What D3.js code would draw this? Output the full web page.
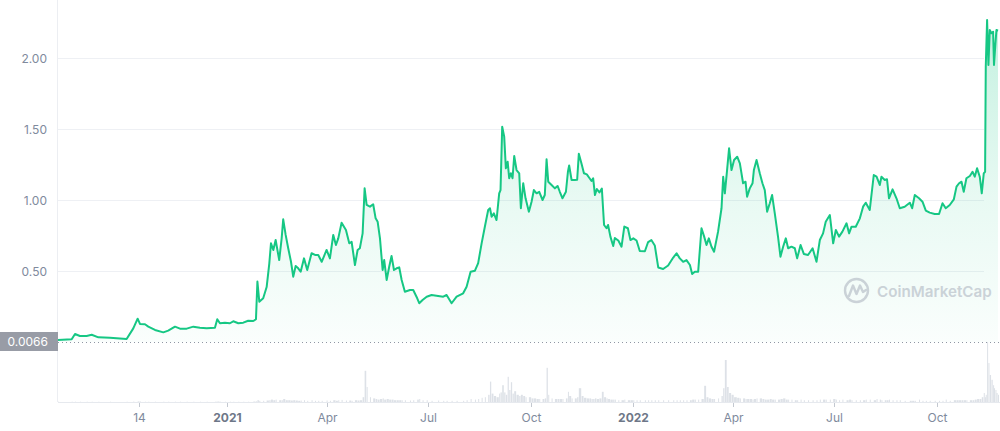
<!DOCTYPE html>
<html>
<head>
<meta charset="utf-8">
<script src="https://cdn.jsdelivr.net/npm/d3@7"></script>
<style>
  html, body { margin: 0; padding: 0; background: #ffffff; }
  svg { display: block; font-family: Inter, "Noto Sans", sans-serif; }
</style>
</head>
<body>
<svg id="chart" width="1000" height="431"></svg>
<script>
// ---- data ----
const startDate = "2020-08-02";
// day offsets from startDate
const priceDays = [0,12.3,15.3,19.7,25.8,30.3,36.3,46.7,61.7,67.7,71.6,73.7,78.2,81.2,87.2,94.7,99.1,105.2,109.7,115.7,121.7,127.6,133.7,141.1,143.2,145.6,150.1,154.6,157.6,162.1,166.6,171.0,175.6,178.0,179.3,181.0,184.5,187.6,190.0,191.5,193.6,195.7,198.9,201.1,202.5,204.7,207.0,209.5,211.5,213.7,216.0,218.2,221.2,224.1,228.0,231.1,234.0,237.1,241.5,244.5,247.5,249.9,252.0,255.0,258.9,261.9,264.0,267.0,269.4,271.4,273.9,275.7,277.5,280.5,283.4,285.6,287.4,289.5,291.9,293.3,295.5,297.8,299.9,302.1,304.5,306.8,309.0,311.9,316.5,319.4,323.0,324.8,327.8,331.5,335.9,341.8,346.4,349.4,353.9,358.4,364.3,367.4,371.0,374.9,377.8,380.9,383.8,386.8,388.4,389.9,391.9,394.3,396.7,397.9,399.4,401.2,402.7,404.3,405.7,407.2,408.7,410.2,412.3,414.7,416.2,418.3,420.4,423.4,425.8,427.9,430.3,432.7,435.7,437.7,439.3,440.8,443.8,446.8,449.2,451.2,453.6,456.7,458.5,459.6,461.8,464.7,466.8,468.3,470.8,472.9,475.5,477.8,479.7,481.2,482.8,484.5,486.8,489.0,491.0,493.2,494.6,496.7,499.2,500.7,503.8,506.7,509.2,512.4,514.7,517.3,520.2,523.1,527.7,530.6,533.5,536.6,539.7,544.1,548.6,553.2,556.2,559.1,562.1,565.1,568.2,570.2,572.6,575.6,578.6,581.0,583.1,585.2,587.6,589.9,593.5,596.6,598.1,599.6,601.6,603.4,605.6,607.9,610.7,613.1,616.0,618.2,619.6,622.0,624.5,625.7,628.1,631.0,633.4,635.5,637.6,640.0,642.1,644.5,647.4,649.6,652.0,654.4,656.5,659.5,662.5,664.6,667.7,670.6,674.4,678.5,682.0,685.0,687.9,690.3,694.0,697.0,699.4,702.3,705.3,709.0,711.3,713.5,717.3,721.0,723.9,726.3,729.9,733.5,736.0,738.9,740.4,743.4,745.4,747.2,750.4,753.9,756.9,761.3,765.9,768.0,770.4,774.2,777.3,780.3,783.8,788.3,792.2,795.3,798.2,801.8,805.5,807.9,810.2,812.4,814.4,816.8,819.9,822.3,824.3,826.4,828.8,830.6,832.4,833.6,834.2,835.4,836.6,837.8,839.3,840.8,841.6,842.9,843.8,845.2];
const priceValues = [0.014,0.019,0.056,0.042,0.042,0.051,0.033,0.030,0.021,0.096,0.164,0.127,0.125,0.108,0.085,0.068,0.080,0.108,0.094,0.094,0.108,0.101,0.096,0.101,0.160,0.132,0.136,0.132,0.146,0.132,0.136,0.150,0.148,0.160,0.426,0.284,0.308,0.387,0.554,0.695,0.648,0.718,0.577,0.730,0.864,0.754,0.660,0.565,0.460,0.535,0.519,0.495,0.589,0.507,0.625,0.613,0.613,0.565,0.648,0.589,0.754,0.683,0.730,0.840,0.789,0.695,0.706,0.542,0.648,0.660,0.765,1.082,0.965,0.953,0.970,0.871,0.847,0.730,0.507,0.577,0.437,0.530,0.606,0.507,0.519,0.526,0.437,0.354,0.366,0.366,0.308,0.273,0.296,0.319,0.331,0.324,0.319,0.331,0.273,0.319,0.343,0.389,0.495,0.502,0.556,0.695,0.812,0.930,0.942,0.882,0.906,0.859,1.047,1.070,1.516,1.446,1.223,1.270,1.153,1.188,1.153,1.310,1.211,1.188,0.942,1.118,1.012,0.918,0.988,1.070,1.047,1.058,1.000,1.035,1.287,1.129,1.106,1.082,1.099,1.058,1.012,1.058,1.199,1.243,1.141,1.141,1.143,1.326,1.253,1.188,1.180,1.155,1.134,1.153,1.035,1.077,1.053,1.081,0.824,0.801,0.824,0.742,0.676,0.732,0.715,0.671,0.813,0.801,0.718,0.730,0.715,0.641,0.639,0.704,0.718,0.680,0.525,0.514,0.539,0.595,0.625,0.589,0.565,0.577,0.542,0.479,0.495,0.495,0.801,0.742,0.683,0.730,0.671,0.636,0.777,0.942,1.164,1.047,1.211,1.364,1.211,1.282,1.305,1.258,1.118,1.129,1.023,1.082,1.118,1.211,1.282,1.188,1.118,1.070,0.918,0.977,1.035,0.906,0.742,0.601,0.671,0.730,0.660,0.671,0.660,0.589,0.683,0.620,0.613,0.660,0.565,0.718,0.765,0.847,0.894,0.695,0.789,0.742,0.777,0.836,0.765,0.812,0.812,0.871,0.953,0.981,0.930,1.176,1.164,1.106,1.164,1.141,1.146,1.012,1.075,1.012,0.942,0.953,0.981,0.942,1.035,1.012,0.988,0.925,0.911,0.901,0.901,0.977,0.942,0.965,1.005,1.094,1.118,1.129,1.058,1.153,1.169,1.199,1.164,1.223,1.164,1.047,1.188,1.199,1.939,2.268,1.951,2.197,2.174,2.185,1.951,2.104,2.197,2.192];
// relative trading volume at the same days
const volumeValues = [0.5,0.5,0.5,0.5,0.5,0.5,0.5,0.5,0.5,0.8,1,0.8,0.5,0.5,0.5,0.5,0.5,0.5,0.5,0.5,0.5,0.5,0.5,0.5,0.8,0.5,0.5,0.5,0.5,0.5,0.5,0.5,0.8,1,3,2,2,2.5,3,4,3,4,3,3,5,3,3,2.5,3,2.5,2,2.5,3,2,3,2,2,2,2.5,2,3,2,3,3.5,2.5,2.5,2,3,2.5,3,8,52,25,8,6,5,4,5,6,4,5,4,4,3,3,3,3,3,2.5,3,4,5,3,3,2,2.5,2,2,2,2,2,3,5,4,5,7,8,12,34,14,10,8,14,16,28,16,12,42,20,33,14,18,12,10,12,10,8,8,6,6,5,5,5,6,57,12,6,5,5,5,5,6,17,10,6,6,8,23,10,7,6,6,5,5,6,5,6,17,8,6,5,4,4,4,3,3,4,3,3,3,3,3,3,3,3,3,3,3,3,3,3,3,3,3,3,4,4,4,5,27,8,6,5,5,6,10,23,70,25,15,12,8,7,6,6,5,5,5,4,5,6,6,5,4,4,5,4,4,4,5,6,4,4,4,3,3,4,3,3,3,3,4,4,4,4,5,4,3,4,3,4,3,3,3,3,4,4,3,5,4,3,3,3,4,3,3,3,2,2,2,2,4,2,2,2,2,2,2,4,2,3,3,3,3,3,3,3,3,4,5,5,8,15,8,12,100,65,45,37,28,23,20,15,12,10];
const yTicks = [0.5, 1.0, 1.5, 2.0];
const yTickLabels = ["0.50", "1.00", "1.50", "2.00"];
const xTickDates = ["2020-10-14","2021-01-01","2021-04-01","2021-07-01","2021-10-01","2022-01-01","2022-04-01","2022-07-01","2022-10-01"];
const xTickLabels = ["14","2021","Apr","Jul","Oct","2022","Apr","Jul","Oct"];
const baselineLabel = "0.0066";
const watermark = "CoinMarketCap";

// ---- build ----
(function () {
const DAY = 86400000;
const t0 = new Date(startDate + "T00:00:00").getTime();
const data = priceDays.map((d, i) => ({ date: new Date(t0 + d * DAY), price: priceValues[i], vol: volumeValues[i] }));

const svg = d3.select("#chart");
const PL = 58, PR = 998, PT = 0, priceBase = 342, volBottom = 402, volTop = 342;

const x = d3.scaleTime().domain(d3.extent(data, d => d.date)).range([PL, PR]);
const y = d3.scaleLinear().domain([0, 2.4]).range([priceBase, priceBase - 2.4 * 142]);
const yv = d3.scaleLinear().domain([0, d3.max(volumeValues)]).range([volBottom, volTop]);

const defs = svg.append("defs");
const grad = defs.append("linearGradient").attr("id", "areaGrad")
  .attr("gradientUnits", "userSpaceOnUse").attr("x1", 0).attr("x2", 0)
  .attr("y1", y(2.3)).attr("y2", priceBase);
grad.append("stop").attr("offset", "0%").attr("stop-color", "#16c784").attr("stop-opacity", 0.26);
grad.append("stop").attr("offset", "55%").attr("stop-color", "#16c784").attr("stop-opacity", 0.1);
grad.append("stop").attr("offset", "100%").attr("stop-color", "#16c784").attr("stop-opacity", 0.02);

// grid lines
svg.append("g").selectAll("line").data(yTicks).join("line")
  .attr("x1", PL).attr("x2", 984)
  .attr("y1", d => Math.round(y(d)) + 0.5).attr("y2", d => Math.round(y(d)) + 0.5)
  .attr("stroke", "#eef0f4").attr("stroke-width", 1);

// axes frame
svg.append("line").attr("x1", PL - 0.5).attr("x2", PL - 0.5).attr("y1", PT).attr("y2", volBottom)
  .attr("stroke", "#eceef2");
svg.append("line").attr("x1", PL).attr("x2", 1000).attr("y1", volBottom + 0.5).attr("y2", volBottom + 0.5)
  .attr("stroke", "#e6e9ee");

// y labels
svg.append("g").selectAll("text").data(yTicks).join("text")
  .attr("x", 47).attr("y", d => y(d) + 4.5)
  .attr("text-anchor", "end").attr("font-size", 12).attr("fill", "#808a9d")
  .text((d, i) => yTickLabels[i]);

// volume bars (width reaches toward the next sample so the low band reads as continuous)
svg.append("g").selectAll("rect").data(data).join("rect")
  .attr("x", d => x(d.date))
  .attr("width", (d, i) => {
    if (i === data.length - 1) return 1;
    const gap = x(data[i + 1].date) - x(d.date);
    return gap <= 3.2 ? Math.max(1, gap - 0.4) : 1;
  })
  .attr("y", d => yv(d.vol))
  .attr("height", d => volBottom - yv(d.vol))
  .attr("fill", "#dde1e7");

// area
const area = d3.area().x(d => x(d.date)).y0(priceBase).y1(d => y(d.price));
svg.append("path").datum(data).attr("d", area).attr("fill", "url(#areaGrad)");

// watermark
const wm = svg.append("g").attr("opacity", 0.55);
wm.append("circle").attr("cx", 856.5).attr("cy", 290.5).attr("r", 11.5)
  .attr("fill", "none").attr("stroke", "#a9b0bd").attr("stroke-width", 2.4);
wm.append("path").attr("d", "M849,296 L853,285.5 L856.5,294 L860,285.5 L863,292 L866,290")
  .attr("fill", "none").attr("stroke", "#a9b0bd").attr("stroke-width", 2.4)
  .attr("stroke-linejoin", "round").attr("stroke-linecap", "round");
wm.append("text").attr("x", 877).attr("y", 297).attr("font-size", 15.2).attr("font-weight", 600)
  .attr("fill", "#a9b0bd").text(watermark);

// baseline dotted
svg.append("line").attr("x1", PL).attr("x2", 1000).attr("y1", priceBase + 0.5).attr("y2", priceBase + 0.5)
  .attr("stroke", "#8f96a3").attr("stroke-width", 1).attr("stroke-dasharray", "1,3");

// price line
const line = d3.line().x(d => x(d.date)).y(d => y(d.price));
svg.append("path").datum(data).attr("d", line)
  .attr("fill", "none").attr("stroke", "#16c784").attr("stroke-width", 2)
  .attr("stroke-linejoin", "round");

// baseline label box
svg.append("rect").attr("x", 0).attr("y", 332).attr("width", PL).attr("height", 19).attr("fill", "#989ca6");
svg.append("text").attr("x", 48).attr("y", 346).attr("text-anchor", "end")
  .attr("font-size", 12).attr("fill", "#ffffff").text(baselineLabel);

// x axis ticks + labels
const xt = svg.append("g");
xTickDates.forEach((ds, i) => {
  const px = Math.round(x(new Date(ds + "T00:00:00"))) + 0.5;
  const isYear = /^\d{4}$/.test(xTickLabels[i]);
  xt.append("line").attr("x1", px).attr("x2", px).attr("y1", volBottom + 1).attr("y2", volBottom + 5)
    .attr("stroke", "#c3c8d0");
  xt.append("text").attr("x", px).attr("y", 422).attr("text-anchor", "middle")
    .attr("font-size", 12).attr("font-weight", isYear ? 700 : 400)
    .attr("fill", isYear ? "#6e7788" : "#808a9d").text(xTickLabels[i]);
});
})();
</script>
</body>
</html>
